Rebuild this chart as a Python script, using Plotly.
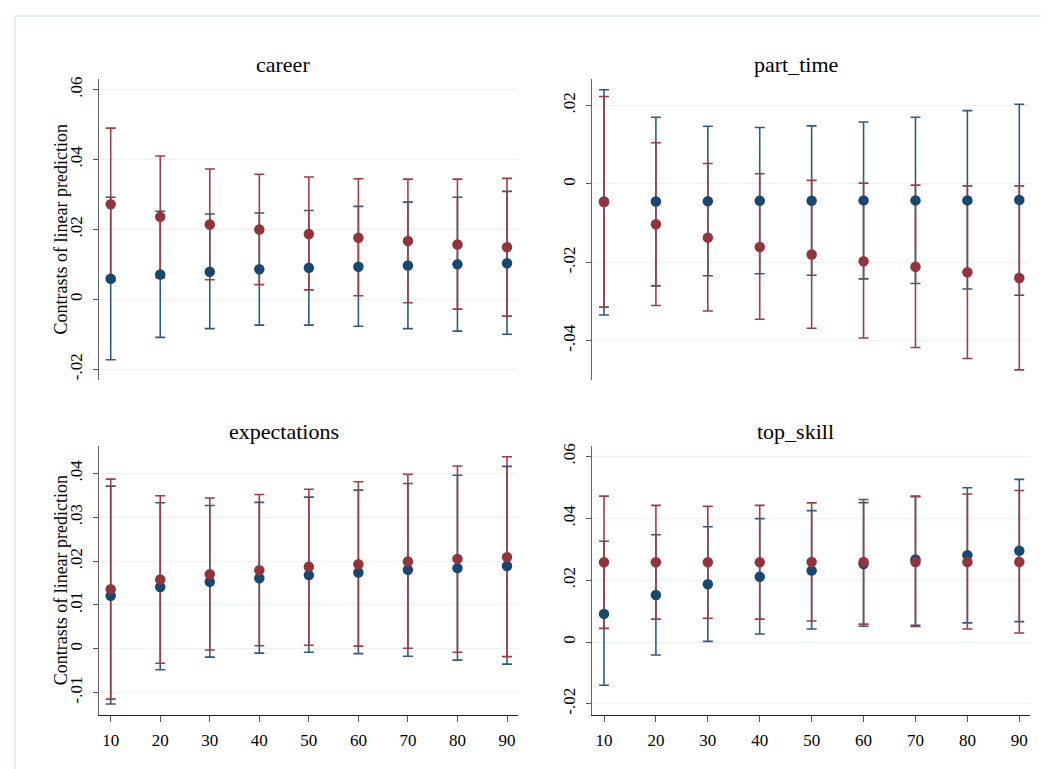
import plotly.graph_objects as go

W, H = 1050, 769

x_vals = [10, 20, 30, 40, 50, 60, 70, 80, 90]
panels = ["career", "part_time", "expectations", "top_skill"]

# career
career_blue = [0.0059, 0.0071, 0.0079, 0.0086, 0.0090, 0.0093, 0.0097, 0.0100, 0.0103]
career_blue_hi = [0.0292, 0.0252, 0.0244, 0.0247, 0.0254, 0.0266, 0.0278, 0.0292, 0.0309]
career_blue_lo = [-0.0173, -0.0109, -0.0084, -0.0074, -0.0074, -0.0077, -0.0084, -0.0091, -0.0100]
career_red = [0.0272, 0.0236, 0.0214, 0.0200, 0.0187, 0.0176, 0.0167, 0.0157, 0.0149]
career_red_hi = [0.0490, 0.0410, 0.0373, 0.0358, 0.0350, 0.0345, 0.0344, 0.0344, 0.0346]
career_red_lo = [0.0054, 0.0062, 0.0056, 0.0042, 0.0027, 0.0010, -0.0010, -0.0028, -0.0048]

# part_time
part_blue = [-0.0045, -0.0045, -0.0044, -0.0043, -0.0043, -0.0042, -0.0042, -0.0042, -0.0041]
part_blue_hi = [0.0240, 0.0170, 0.0147, 0.0144, 0.0148, 0.0158, 0.0170, 0.0187, 0.0203]
part_blue_lo = [-0.0334, -0.0260, -0.0234, -0.0229, -0.0233, -0.0242, -0.0254, -0.0268, -0.0284]
part_red = [-0.0046, -0.0103, -0.0137, -0.0161, -0.0180, -0.0197, -0.0211, -0.0225, -0.0240]
part_red_hi = [0.0223, 0.0105, 0.0052, 0.0026, 0.0009, 0.0002, -0.0003, -0.0005, -0.0005]
part_red_lo = [-0.0314, -0.0310, -0.0324, -0.0345, -0.0368, -0.0393, -0.0417, -0.0445, -0.0474]

# expectations
exp_blue = [0.0121, 0.0141, 0.0153, 0.0161, 0.0168, 0.0174, 0.0180, 0.0184, 0.0189]
exp_blue_hi = [0.0371, 0.0333, 0.0327, 0.0334, 0.0346, 0.0362, 0.0377, 0.0396, 0.0416]
exp_blue_lo = [-0.0126, -0.0048, -0.0019, -0.0010, -0.0008, -0.0011, -0.0017, -0.0026, -0.0035]
exp_red = [0.0136, 0.0158, 0.0170, 0.0179, 0.0187, 0.0193, 0.0199, 0.0205, 0.0209]
exp_red_hi = [0.0387, 0.0349, 0.0344, 0.0352, 0.0364, 0.0381, 0.0398, 0.0417, 0.0438]
exp_red_lo = [-0.0115, -0.0033, -0.0003, 0.0007, 0.0008, 0.0006, 0.0001, -0.0008, -0.0018]

# top_skill
top_blue = [0.0091, 0.0152, 0.0187, 0.0211, 0.0231, 0.0252, 0.0267, 0.0281, 0.0295]
top_blue_hi = [0.0326, 0.0347, 0.0373, 0.0399, 0.0425, 0.0451, 0.0472, 0.0499, 0.0526]
top_blue_lo = [-0.0140, -0.0042, 0.0002, 0.0026, 0.0042, 0.0051, 0.0054, 0.0062, 0.0066]
top_red = [0.0258, 0.0258, 0.0258, 0.0258, 0.0259, 0.0259, 0.0259, 0.0259, 0.0259]
top_red_hi = [0.0472, 0.0442, 0.0439, 0.0442, 0.0450, 0.0461, 0.0470, 0.0479, 0.0490]
top_red_lo = [0.0044, 0.0074, 0.0077, 0.0074, 0.0068, 0.0058, 0.0050, 0.0042, 0.0029]

# y tick values / labels per panel
career_ticks = [-0.02, 0, 0.02, 0.04, 0.06]
career_labels = ["-.02", "0", ".02", ".04", ".06"]
part_ticks = [-0.04, -0.02, 0, 0.02]
part_labels = ["-.04", "-.02", "0", ".02"]
exp_ticks = [-0.01, 0, 0.01, 0.02, 0.03, 0.04]
exp_labels = ["-.01", "0", ".01", ".02", ".03", ".04"]
top_ticks = [-0.02, 0, 0.02, 0.04, 0.06]
top_labels = ["-.02", "0", ".02", ".04", ".06"]

y_title = "Contrasts of linear prediction"

NAVY = "#1a476f"
MAROON = "#90353b"
NAVY_BAR = "#2e5a82"
MAROON_BAR = "#9d3e46"
GRID = "#e9f1f3"
FONT = "Liberation Serif, Times New Roman, serif"

data = [
    (career_blue, career_blue_hi, career_blue_lo, career_red, career_red_hi, career_red_lo,
     career_ticks, career_labels),
    (part_blue, part_blue_hi, part_blue_lo, part_red, part_red_hi, part_red_lo,
     part_ticks, part_labels),
    (exp_blue, exp_blue_hi, exp_blue_lo, exp_red, exp_red_hi, exp_red_lo,
     exp_ticks, exp_labels),
    (top_blue, top_blue_hi, top_blue_lo, top_red, top_red_hi, top_red_lo,
     top_ticks, top_labels),
]

# layout geometry in pixels
left_x = [(91.3, 510.0), (584.3, 1022.0)]
x_px10_90 = [(102.7, 499.0), (596.0, 1011.3)]
rows_y = [(69.0, 371.0), (436.7, 707.0)]
y_ranges = [(-0.0231, 0.0631), (-0.0500, 0.0268), (-0.01515, 0.04636), (-0.02366, 0.06355)]
title_pos = [(275, 55), (787.5, 55), (275.5, 423), (787, 423)]


def px(x):
    return x / W


def py(y):
    return 1 - y / H


fig = go.Figure()
layout = dict(
    width=W, height=H,
    margin=dict(l=0, r=0, t=0, b=0),
    paper_bgcolor="white", plot_bgcolor="white",
    showlegend=False,
    font=dict(family=FONT, color="black", size=17),
)
annotations = []

for i, (b, bh, bl, r, rh, rl, tv, tt) in enumerate(data):
    col = i % 2
    row = i // 2
    xa = "x" if i == 0 else f"x{i+1}"
    ya = "y" if i == 0 else f"y{i+1}"
    xl, xr = left_x[col]
    p10, p90 = x_px10_90[col]
    scale = 80.0 / (p90 - p10)
    xrange = [10 - (p10 - xl) * scale, 90 + (xr - p90) * scale]
    yt, yb = rows_y[row]

    def err(mean, hi, lo):
        return dict(type="data", symmetric=False,
                    array=[h - m for h, m in zip(hi, mean)],
                    arrayminus=[m - l for m, l in zip(mean, lo)],
                    thickness=1.6, width=5)

    eb = err(b, bh, bl)
    eb["color"] = NAVY_BAR
    er = err(r, rh, rl)
    er["color"] = MAROON_BAR
    fig.add_trace(go.Scatter(x=x_vals, y=b, mode="markers", xaxis=xa, yaxis=ya,
                             marker=dict(size=1, color="rgba(0,0,0,0)"), error_y=eb,
                             hoverinfo="skip"))
    fig.add_trace(go.Scatter(x=x_vals, y=r, mode="markers", xaxis=xa, yaxis=ya,
                             marker=dict(size=1, color="rgba(0,0,0,0)"), error_y=er,
                             hoverinfo="skip"))
    fig.add_trace(go.Scatter(x=x_vals, y=b, mode="markers", xaxis=xa, yaxis=ya,
                             marker=dict(size=10.5, color=NAVY)))
    fig.add_trace(go.Scatter(x=x_vals, y=r, mode="markers", xaxis=xa, yaxis=ya,
                             marker=dict(size=10.5, color=MAROON)))

    bottom = row == 1
    layout["xaxis" if i == 0 else f"xaxis{i+1}"] = dict(
        domain=[px(xl), px(xr)], range=xrange, anchor=ya,
        showgrid=False, zeroline=False,
        showline=bottom, linecolor="#222222", linewidth=1.3,
        ticks="outside" if bottom else "", ticklen=6, tickwidth=1.3, tickcolor="#555555",
        tickvals=x_vals if bottom else [], ticktext=[str(v) for v in x_vals] if bottom else [],
        showticklabels=bottom, tickfont=dict(size=17, family=FONT, color="black"),
        ticklabelstandoff=3,
    )
    layout["yaxis" if i == 0 else f"yaxis{i+1}"] = dict(
        domain=[py(yb), py(yt)], range=list(y_ranges[i]), anchor=xa,
        showgrid=True, gridcolor=GRID, gridwidth=1.2, zeroline=False,
        showline=True, linecolor="#666666", linewidth=1.3,
        ticks="outside", ticklen=5, tickwidth=1.2, tickcolor="#555555",
        tickvals=tv, ticktext=tt, tickangle=-90,
        tickfont=dict(size=17, family=FONT, color="black"),
        ticklabelstandoff=4,
    )
    tx, ty = title_pos[i]
    annotations.append(dict(text=panels[i], x=px(tx), y=py(ty), xref="paper", yref="paper",
                            showarrow=False, xanchor="center", yanchor="middle",
                            font=dict(size=22, family=FONT, color="black")))
    if col == 0:
        annotations.append(dict(text=y_title, x=px(53), y=py((yt + yb) / 2),
                                xref="paper", yref="paper", showarrow=False,
                                textangle=-90, xanchor="center", yanchor="middle",
                                font=dict(size=18, family=FONT, color="black")))

layout["annotations"] = annotations
layout["shapes"] = [
    dict(type="line", xref="paper", yref="paper", x0=px(7), x1=1, y0=py(6), y1=py(6),
         line=dict(color="#e6eff1", width=2)),
    dict(type="line", xref="paper", yref="paper", x0=px(7), x1=px(7), y0=py(6), y1=0,
         line=dict(color="#e6eff1", width=2)),
]
fig.update_layout(**layout)
fig.write_html("out.html")
